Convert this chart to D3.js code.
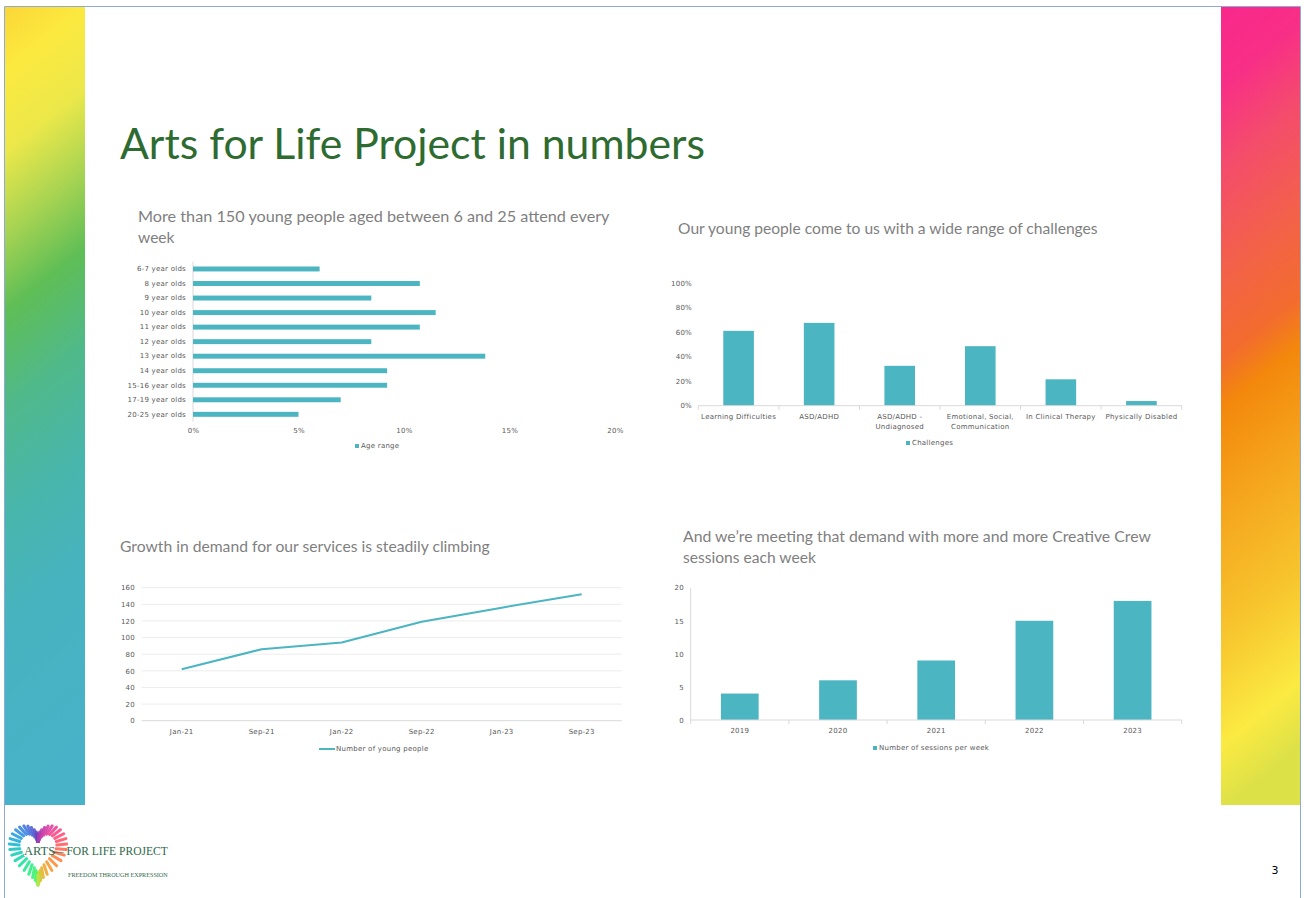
<!DOCTYPE html>
<html>
<head>
<meta charset="utf-8">
<script src="https://cdn.jsdelivr.net/npm/d3@7"></script>
<style>
  body { margin: 0; background: #fff; }
  svg { display: block; }
</style>
</head>
<body>
<svg id="slide" width="1304" height="898"></svg>
<script>
// chart data
const ageCats = ["6-7 year olds", "8 year olds", "9 year olds", "10 year olds", "11 year olds",
  "12 year olds", "13 year olds", "14 year olds", "15-16 year olds", "17-19 year olds", "20-25 year olds"];
const ageVals = [6, 10.75, 8.45, 11.5, 10.75, 8.45, 13.85, 9.2, 9.2, 7, 5];
const ageTicks = [0, 5, 10, 15, 20];

const challengeCats = ["Learning Difficulties", "ASD/ADHD", "ASD/ADHD -\nUndiagnosed",
  "Emotional, Social,\nCommunication", "In Clinical Therapy", "Physically Disabled"];
const challengeVals = [61, 67.5, 32.5, 48.5, 21.5, 3.8];
const challengeTicks = [0, 20, 40, 60, 80, 100];

const growthDates = ["Jan-21", "Sep-21", "Jan-22", "Sep-22", "Jan-23", "Sep-23"];
const growthVals = [62, 86, 94, 119, 136, 152];
const growthTicks = [0, 20, 40, 60, 80, 100, 120, 140, 160];

const sessionYears = ["2019", "2020", "2021", "2022", "2023"];
const sessionVals = [4, 6, 9, 15, 18];
const sessionTicks = [0, 5, 10, 15, 20];

const TEAL = "#4bb5c1";
const LABEL = "#595959";
const SMALL = "7px 'DejaVu Sans', Verdana, sans-serif";

const svg = d3.select("#slide");
const defs = svg.append("defs");

function gradient(id, stops) {
  const g = defs.append("linearGradient").attr("id", id)
    .attr("x1", 0).attr("y1", 0).attr("x2", 0.08).attr("y2", 1);
  stops.forEach(s => g.append("stop").attr("offset", s[0]).attr("stop-color", s[1]));
}
gradient("leftGrad", [[0, "#fbd637"], [0.08, "#fce93f"], [0.18, "#ece84a"], [0.28, "#a9d452"],
  [0.38, "#5fbe56"], [0.5, "#50b98a"], [0.63, "#49b6ab"], [0.77, "#47b3bf"], [1, "#48b2c8"]]);
gradient("rightGrad", [[0, "#f9288b"], [0.1, "#f82f86"], [0.2, "#f44c6c"], [0.33, "#f3614a"],
  [0.44, "#f36c2e"], [0.5, "#f3880c"], [0.62, "#f5a31c"], [0.78, "#f7c42d"], [0.92, "#fbea42"], [1, "#dde148"]]);

// side bars and frame
svg.append("rect").attr("x", 5).attr("y", 7).attr("width", 80).attr("height", 798).attr("fill", "url(#leftGrad)");
svg.append("rect").attr("x", 1221).attr("y", 7).attr("width", 79).attr("height", 798).attr("fill", "url(#rightGrad)");
svg.append("path").attr("d", "M4.5,898 V6.5 H1300.5 V898")
  .attr("fill", "none").attr("stroke", "#8eaadb").attr("stroke-width", 1);

// fit a text element's font size to a target width
function fitText(sel, width) {
  const w = sel.node().getComputedTextLength();
  const fs = parseFloat(sel.style("font-size"));
  sel.style("font-size", (fs * width / w) + "px");
  return sel;
}

// main title
fitText(svg.append("text").attr("x", 120).attr("y", 159)
  .attr("fill", "#2e6b30").style("font-family", "Lato, 'Open Sans', sans-serif").style("font-size", "40px")
  .text("Arts for Life Project in numbers"), 585);

function subtitle(x, y, txt, w) {
  fitText(svg.append("text").attr("x", x).attr("y", y)
    .attr("fill", "#7f7f7f").style("font-family", "Lato, 'Open Sans', sans-serif").style("font-size", "15px")
    .text(txt), w);
}
subtitle(138, 222, "More than 150 young people aged between 6 and 25 attend every", 472);
svg.append("text").attr("x", 138).attr("y", 243).attr("fill", "#7f7f7f")
  .style("font-family", "Lato, 'Open Sans', sans-serif").style("font-size", "15.6px").text("week");
subtitle(678, 234, "Our young people come to us with a wide range of challenges", 420);
subtitle(120, 552, "Growth in demand for our services is steadily climbing", 370);
subtitle(683, 542, "And we\u2019re meeting that demand with more and more Creative Crew", 468);
svg.append("text").attr("x", 683).attr("y", 563).attr("fill", "#7f7f7f")
  .style("font-family", "Lato, 'Open Sans', sans-serif").style("font-size", "15.6px").text("sessions each week");

function styleTicks(g) {
  g.select(".domain").remove();
  g.selectAll(".tick line").remove();
  g.selectAll("text").attr("fill", LABEL).style("font", SMALL).style("letter-spacing", "0.25px");
}

function smallText(x, y, label) {
  return svg.append("text").attr("x", x).attr("y", y).attr("fill", LABEL)
    .style("font", SMALL).style("letter-spacing", "0.25px").text(label);
}

function legendSquare(x, y, label) {
  svg.append("rect").attr("x", x).attr("y", y - 2).attr("width", 4).attr("height", 4).attr("fill", TEAL);
  smallText(x + 6, y + 2.4, label);
}

// ---- chart 1: age range (horizontal bars)
{
  const x = d3.scaleLinear().domain([0, 20]).range([193, 615]);
  const y = d3.scaleBand().domain(ageCats).range([261.7, 421.6]).paddingInner(0.66).paddingOuter(0.33);
  const g = svg.append("g");
  g.append("line").attr("x1", x(0)).attr("x2", x(0)).attr("y1", 261.7).attr("y2", 421.6)
    .attr("stroke", "#d9d9d9");
  g.selectAll(".bar").data(ageVals).join("rect").attr("class", "bar")
    .attr("x", x(0)).attr("y", (d, i) => y(ageCats[i]))
    .attr("width", d => x(d) - x(0)).attr("height", y.bandwidth()).attr("fill", TEAL);
  g.append("g").attr("transform", `translate(${x(0)},0)`)
    .call(d3.axisLeft(y).tickSize(0).tickPadding(7)).call(styleTicks);
  g.append("g").attr("transform", "translate(0,424)")
    .call(d3.axisBottom(x).tickValues(ageTicks).tickSize(0).tickPadding(4.5).tickFormat(d => d + "%"))
    .call(styleTicks);
  legendSquare(355, 446, "Age range");
}

// ---- chart 2: challenges (vertical bars)
{
  const x = d3.scaleBand().domain(challengeCats).range([698.3, 1181.7]).paddingInner(0.62).paddingOuter(0.31);
  const y = d3.scaleLinear().domain([0, 100]).range([405.7, 283]);
  const g = svg.append("g");
  g.selectAll(".bar").data(challengeVals).join("rect").attr("class", "bar")
    .attr("x", (d, i) => x(challengeCats[i])).attr("y", d => y(d))
    .attr("width", x.bandwidth()).attr("height", d => y(0) - y(d)).attr("fill", TEAL);
  g.append("line").attr("x1", 698.3).attr("x2", 1181.7).attr("y1", y(0)).attr("y2", y(0)).attr("stroke", "#d9d9d9");
  const step = x.step();
  g.selectAll(".sep").data(d3.range(challengeCats.length + 1)).join("line").attr("class", "sep")
    .attr("x1", i => 698.3 + i * step).attr("x2", i => 698.3 + i * step)
    .attr("y1", y(0)).attr("y2", y(0) + 4).attr("stroke", "#d9d9d9");
  g.append("g").attr("transform", "translate(692,0)")
    .call(d3.axisLeft(y).tickValues(challengeTicks).tickSize(0).tickPadding(0).tickFormat(d => d + "%"))
    .call(styleTicks);
  const ax = g.append("g").attr("transform", "translate(0,410)")
    .call(d3.axisBottom(x).tickSize(0).tickPadding(4)).call(styleTicks);
  ax.selectAll(".tick text").each(function(d) {
    const t = d3.select(this).text("");
    d.split("\n").forEach((line, i) => {
      t.append("tspan").attr("x", 0).attr("dy", i === 0 ? "0.71em" : "1.45em").text(line);
    });
  });
  legendSquare(906, 443, "Challenges");
}

// ---- chart 3: growth in demand (line)
{
  const x = d3.scaleBand().domain(growthDates).range([141.7, 621.7]);
  const y = d3.scaleLinear().domain([0, 160]).range([720.7, 587.7]);
  const g = svg.append("g");
  g.selectAll(".grid").data(growthTicks).join("line").attr("class", "grid")
    .attr("x1", 141.7).attr("x2", 621.7).attr("y1", d => y(d)).attr("y2", d => y(d))
    .attr("stroke", d => d === 0 ? "#d9d9d9" : "#ececec");
  g.append("g").attr("transform", "translate(135,0)")
    .call(d3.axisLeft(y).tickValues(growthTicks).tickSize(0).tickPadding(0)).call(styleTicks);
  g.append("g").attr("transform", "translate(0,724.5)")
    .call(d3.axisBottom(x).tickSize(0).tickPadding(4.5)).call(styleTicks);
  const line = d3.line().x((d, i) => x(growthDates[i]) + x.bandwidth() / 2).y(d => y(d));
  g.append("path").datum(growthVals).attr("d", line)
    .attr("fill", "none").attr("stroke", TEAL).attr("stroke-width", 2).attr("stroke-linejoin", "round");
  g.append("line").attr("x1", 319).attr("x2", 335).attr("y1", 749).attr("y2", 749)
    .attr("stroke", TEAL).attr("stroke-width", 2);
  smallText(336, 751.4, "Number of young people");
}

// ---- chart 4: sessions per week (vertical bars)
{
  const x = d3.scaleBand().domain(sessionYears).range([690.7, 1181.7]).paddingInner(0.616).paddingOuter(0.308);
  const y = d3.scaleLinear().domain([0, 20]).range([720, 587.7]);
  const g = svg.append("g");
  g.selectAll(".bar").data(sessionVals).join("rect").attr("class", "bar")
    .attr("x", (d, i) => x(sessionYears[i])).attr("y", d => y(d))
    .attr("width", x.bandwidth()).attr("height", d => y(0) - y(d)).attr("fill", TEAL);
  g.append("line").attr("x1", 690.7).attr("x2", 690.7).attr("y1", y(20)).attr("y2", y(0)).attr("stroke", "#d9d9d9");
  g.append("line").attr("x1", 690.7).attr("x2", 1181.7).attr("y1", y(0)).attr("y2", y(0)).attr("stroke", "#d9d9d9");
  const step = x.step();
  g.selectAll(".sep").data(d3.range(sessionYears.length + 1)).join("line").attr("class", "sep")
    .attr("x1", i => 690.7 + i * step).attr("x2", i => 690.7 + i * step)
    .attr("y1", y(0)).attr("y2", y(0) + 4).attr("stroke", "#d9d9d9");
  g.append("g").attr("transform", "translate(684,0)")
    .call(d3.axisLeft(y).tickValues(sessionTicks).tickSize(0).tickPadding(0)).call(styleTicks);
  g.append("g").attr("transform", "translate(0,723.5)")
    .call(d3.axisBottom(x).tickSize(0).tickPadding(4.5)).call(styleTicks);
  legendSquare(873, 748, "Number of sessions per week");
}

// ---- logo (decorative)
{
  const cx = 38, cy = 851, sx = 1.3, sy = 1.55;
  const g = svg.append("g");
  const n = 46;
  d3.range(n).forEach(i => {
    const t = -Math.PI + (i + 0.5) * 2 * Math.PI / n;
    const hx = 16 * Math.pow(Math.sin(t), 3);
    const hy = -(13 * Math.cos(t) - 5 * Math.cos(2 * t) - 2 * Math.cos(3 * t) - Math.cos(4 * t));
    const px = cx + hx * sx, py = cy + hy * sy;
    const dx = px - cx, dy = py - (cy - 4);
    const len = Math.hypot(dx, dy) || 1;
    g.append("line")
      .attr("x1", px - dx / len * 2).attr("y1", py - dy / len * 2)
      .attr("x2", px + dx / len * 8).attr("y2", py + dy / len * 8)
      .attr("stroke", d3.interpolateRainbow(0.55 + i / n * 0.95))
      .attr("stroke-width", 3).attr("stroke-linecap", "round").attr("opacity", 0.9);
  });
  g.append("rect").attr("x", 24).attr("y", 843).attr("width", 23).attr("height", 13).attr("fill", "#fff");
  g.append("text").attr("x", 24).attr("y", 855).attr("fill", "#2f6a4a")
    .style("font", "12.5px 'Liberation Serif', serif").text("ARTS");
  fitText(g.append("text").attr("x", 52).attr("y", 855).attr("fill", "#2f6a4a")
    .style("font", "12.5px 'Liberation Serif', serif").text("\u2014 FOR LIFE PROJECT"), 116);
  fitText(g.append("text").attr("x", 68).attr("y", 877).attr("fill", "#2f6a4a")
    .style("font", "7px 'Liberation Serif', serif").text("FREEDOM THROUGH EXPRESSION"), 100);
}

// page number
svg.append("text").attr("x", 1275).attr("y", 874).attr("text-anchor", "middle")
  .attr("fill", "#000").style("font", "11px 'DejaVu Sans', sans-serif").text("3");
</script>
</body>
</html>
